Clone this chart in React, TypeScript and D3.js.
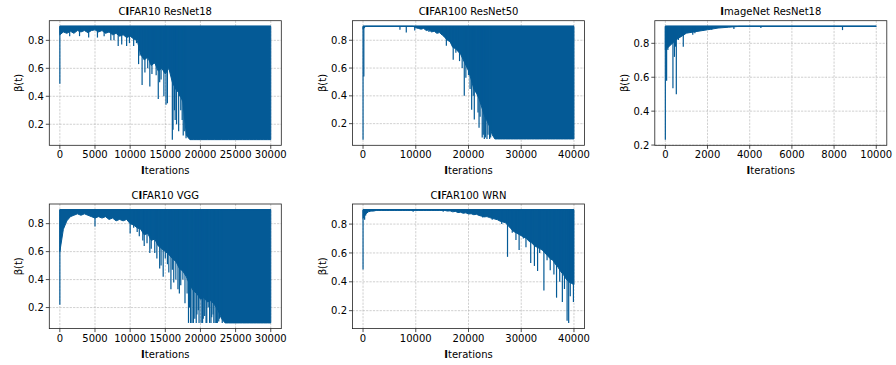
import React from 'react';
import * as d3 from 'd3';

// upper value of beta(t): every curve keeps returning to it
const betaMax = 0.9;

// lower edge of the dense band, one value every 500 iterations
const c10ResNet18Base = [0.84, 0.86, 0.85, 0.865, 0.85, 0.87, 0.86, 0.87, 0.855, 0.87, 0.875, 0.86, 0.87, 0.85, 0.86, 0.84, 0.85, 0.83, 0.84, 0.82, 0.83, 0.81, 0.8, 0.7, 0.66, 0.68, 0.62, 0.64, 0.58, 0.6, 0.56, 0.6, 0.5, 0.45, 0.42, 0.36, 0.12, 0.09, 0.09, 0.09, 0.09, 0.09, 0.09, 0.09, 0.09, 0.09, 0.09, 0.09, 0.09, 0.09, 0.09, 0.09, 0.09, 0.09, 0.09, 0.09, 0.09, 0.09, 0.09, 0.09, 0.09];
// deeper single dips: [iteration, beta]
const c10ResNet18Spikes = [[0, 0.49], [1400, 0.83], [2800, 0.83], [4100, 0.82], [5350, 0.82], [6300, 0.83], [7250, 0.8], [7700, 0.8], [8300, 0.76], [8800, 0.77], [9500, 0.76], [9900, 0.78], [10500, 0.76], [10900, 0.78], [11200, 0.63], [11400, 0.69], [11700, 0.48], [12100, 0.57], [12500, 0.6], [12800, 0.47], [13100, 0.56], [13400, 0.63], [13700, 0.55], [14000, 0.38], [14200, 0.5], [14400, 0.52], [14800, 0.4], [15100, 0.34], [15300, 0.35], [15700, 0.58], [16000, 0.09], [16100, 0.16], [16300, 0.3], [16400, 0.23], [16600, 0.2], [16700, 0.45], [16900, 0.15], [17000, 0.4], [17200, 0.3], [17400, 0.23], [17550, 0.12], [17700, 0.15], [17800, 0.26], [17950, 0.1]];

const c100ResNet50Base = [0.88, 0.9, 0.9, 0.9, 0.9, 0.9, 0.9, 0.9, 0.9, 0.9, 0.9, 0.9, 0.9, 0.9, 0.9, 0.9, 0.9, 0.9, 0.9, 0.9, 0.89, 0.885, 0.88, 0.885, 0.87, 0.875, 0.86, 0.865, 0.85, 0.855, 0.84, 0.82, 0.8, 0.79, 0.75, 0.74, 0.72, 0.7, 0.66, 0.62, 0.58, 0.52, 0.45, 0.42, 0.38, 0.32, 0.26, 0.22, 0.18, 0.12, 0.09, 0.09, 0.09, 0.09, 0.09, 0.09, 0.09, 0.09, 0.09, 0.09, 0.09, 0.09, 0.09, 0.09, 0.09, 0.09, 0.09, 0.09, 0.09, 0.09, 0.09, 0.09, 0.09, 0.09, 0.09, 0.09, 0.09, 0.09, 0.09, 0.09, 0.09];
const c100ResNet50Spikes = [[0, 0.085], [150, 0.54], [7000, 0.876], [8200, 0.855], [9800, 0.87], [12500, 0.86], [14900, 0.84], [15800, 0.76], [16500, 0.8], [17100, 0.66], [17600, 0.71], [18300, 0.65], [18800, 0.6], [19200, 0.4], [19500, 0.53], [20000, 0.55], [20300, 0.45], [20600, 0.3], [20900, 0.4], [21100, 0.23], [21500, 0.42], [21800, 0.28], [22000, 0.17], [22200, 0.25], [22400, 0.35], [22600, 0.1], [22800, 0.12], [23000, 0.09], [23200, 0.1], [23500, 0.09], [23700, 0.12], [24000, 0.09], [24200, 0.1]];

const imageNetResNet18Base = [0.76, 0.82, 0.86, 0.87, 0.88, 0.89, 0.895, 0.9, 0.9, 0.9, 0.9, 0.9, 0.9, 0.9, 0.9, 0.9, 0.9, 0.9, 0.9, 0.9, 0.9];
const imageNetResNet18Spikes = [[0, 0.232], [60, 0.58], [120, 0.76], [250, 0.8], [360, 0.535], [430, 0.72], [480, 0.78], [520, 0.5], [620, 0.82], [720, 0.84], [850, 0.78], [1300, 0.85], [1400, 0.86], [1800, 0.875], [2200, 0.88], [3250, 0.885], [4530, 0.89], [8400, 0.878]];

const c10VggBase = [0.6, 0.76, 0.82, 0.85, 0.86, 0.87, 0.86, 0.87, 0.86, 0.85, 0.84, 0.85, 0.84, 0.85, 0.83, 0.84, 0.82, 0.83, 0.82, 0.83, 0.8, 0.79, 0.77, 0.76, 0.72, 0.73, 0.68, 0.69, 0.64, 0.62, 0.6, 0.58, 0.55, 0.53, 0.48, 0.46, 0.42, 0.36, 0.32, 0.3, 0.26, 0.27, 0.24, 0.25, 0.22, 0.18, 0.12, 0.09, 0.09, 0.09, 0.09, 0.09, 0.09, 0.09, 0.09, 0.09, 0.09, 0.09, 0.09, 0.09, 0.09];
const c10VggSpikes = [[0, 0.22], [5000, 0.78], [10000, 0.73], [10500, 0.77], [11000, 0.74], [11300, 0.71], [11800, 0.68], [12000, 0.64], [12400, 0.66], [12800, 0.59], [13000, 0.62], [13500, 0.59], [13800, 0.55], [14200, 0.48], [14400, 0.5], [14700, 0.42], [15000, 0.55], [15300, 0.51], [15500, 0.45], [15800, 0.33], [16000, 0.47], [16200, 0.38], [16500, 0.4], [16800, 0.33], [17000, 0.3], [17200, 0.36], [17500, 0.4], [17800, 0.23], [18100, 0.3], [18300, 0.09], [18450, 0.2], [18600, 0.09], [18800, 0.09], [19000, 0.09], [19200, 0.12], [19400, 0.09], [19500, 0.15], [19700, 0.18], [19800, 0.09], [20100, 0.09], [20300, 0.09], [20400, 0.12], [20600, 0.14], [20800, 0.09], [20900, 0.09], [21100, 0.2], [21300, 0.09], [21500, 0.09], [21600, 0.13], [21800, 0.15], [21900, 0.09], [22100, 0.09], [22300, 0.09], [22400, 0.09], [22600, 0.1], [22700, 0.12], [23100, 0.09]];

const c100WrnBase = [0.84, 0.87, 0.885, 0.89, 0.89, 0.895, 0.895, 0.895, 0.895, 0.895, 0.895, 0.895, 0.895, 0.895, 0.895, 0.895, 0.895, 0.895, 0.895, 0.895, 0.895, 0.895, 0.895, 0.895, 0.895, 0.895, 0.895, 0.895, 0.895, 0.895, 0.895, 0.895, 0.89, 0.892, 0.885, 0.888, 0.88, 0.882, 0.875, 0.878, 0.87, 0.872, 0.865, 0.868, 0.86, 0.855, 0.85, 0.852, 0.845, 0.84, 0.835, 0.83, 0.82, 0.815, 0.81, 0.79, 0.77, 0.75, 0.74, 0.73, 0.72, 0.71, 0.7, 0.68, 0.67, 0.65, 0.64, 0.63, 0.62, 0.6, 0.58, 0.56, 0.55, 0.52, 0.5, 0.47, 0.45, 0.42, 0.4, 0.39, 0.38];
const c100WrnSpikes = [[0, 0.486], [300, 0.83], [500, 0.86], [9500, 0.885], [15200, 0.885], [22700, 0.845], [24500, 0.83], [26300, 0.8], [27400, 0.573], [28300, 0.74], [29000, 0.69], [29600, 0.62], [30400, 0.7], [30900, 0.64], [31800, 0.53], [32500, 0.51], [33100, 0.475], [33500, 0.6], [34300, 0.34], [34900, 0.55], [35500, 0.48], [36200, 0.45], [36700, 0.29], [37300, 0.4], [37800, 0.26], [38200, 0.35], [38700, 0.13], [39000, 0.115], [39300, 0.3], [39600, 0.47], [39900, 0.26]];

const ticks30k = [0, 5000, 10000, 15000, 20000, 25000, 30000];
const ticks40k = [0, 10000, 20000, 30000, 40000];
const ticks10k = [0, 2000, 4000, 6000, 8000, 10000];
const yTicks = [0.2, 0.4, 0.6, 0.8];

const panels = [
  { title: 'CIFAR10 ResNet18', base: c10ResNet18Base, spikes: c10ResNet18Spikes, step: 500, xTicks: ticks30k, left: 49.3, top: 20.7 },
  { title: 'CIFAR100 ResNet50', base: c100ResNet50Base, spikes: c100ResNet50Spikes, step: 500, xTicks: ticks40k, left: 352.5, top: 20.7 },
  { title: 'ImageNet ResNet18', base: imageNetResNet18Base, spikes: imageNetResNet18Spikes, step: 500, xTicks: ticks10k, left: 654.8, top: 20.7 },
  { title: 'CIFAR10 VGG', base: c10VggBase, spikes: c10VggSpikes, step: 500, xTicks: ticks30k, left: 49.3, top: 204 },
  { title: 'CIFAR100 WRN', base: c100WrnBase, spikes: c100WrnSpikes, step: 500, xTicks: ticks40k, left: 352.5, top: 204 },
];

const W = 896;
const H = 365;
const AW = 232;
const AH = 124.6;
const BLUE = '#045a96';
const FONT = 'DejaVu Sans, sans-serif';

// the capital I renders heavy in the original, mimic that
const heavyI = (s: string) =>
  s.split(/(I)/).map((part, i) =>
    part === 'I' ? <tspan key={i} fontWeight="bold">I</tspan> : <tspan key={i}>{part}</tspan>
  );

function Panel({ p }: { p: any }) {
  const { left, top } = p;
  const maxIter = (p.base.length - 1) * p.step;
  const x = d3.scaleLinear().domain([-maxIter * 0.05, maxIter * 1.05]).range([left, left + AW]);
  const vals = [...p.base, ...p.spikes.map((s: number[]) => s[1]), betaMax];
  const [lo, hi] = d3.extent(vals) as [number, number];
  const pad = (hi - lo) * 0.05;
  const y = d3.scaleLinear().domain([lo - pad, hi + pad]).range([top + AH, top]);

  const area = d3.area<number>()
    .x((_, i) => x(i * p.step))
    .y0(d => y(d))
    .y1(y(betaMax));

  const fmtY = d3.format('.1f');

  return (
    <g>
      {/* grid */}
      {p.xTicks.map((t: number) => (
        <line key={'gx' + t} x1={x(t)} x2={x(t)} y1={top} y2={top + AH} stroke="#b0b0b0" strokeWidth={0.6} strokeDasharray="2.2,1.2" />
      ))}
      {yTicks.map(t => (
        <line key={'gy' + t} x1={left} x2={left + AW} y1={y(t)} y2={y(t)} stroke="#b0b0b0" strokeWidth={0.6} strokeDasharray="2.2,1.2" />
      ))}

      {/* dense band */}
      <path d={area(p.base) || ''} fill={BLUE} stroke={BLUE} strokeWidth={1} strokeLinejoin="round" />
      <line x1={x(0)} x2={x(maxIter)} y1={y(betaMax)} y2={y(betaMax)} stroke={BLUE} strokeWidth={1.5} />
      {p.spikes.map((s: number[], i: number) => (
        <line key={'s' + i} x1={x(s[0])} x2={x(s[0])} y1={y(betaMax)} y2={y(s[1])} stroke={BLUE} strokeWidth={1.2} />
      ))}

      {/* frame */}
      <rect x={left} y={top} width={AW} height={AH} fill="none" stroke="#222" strokeWidth={0.8} />

      {/* x axis */}
      {p.xTicks.map((t: number) => (
        <g key={'xt' + t}>
          <line x1={x(t)} x2={x(t)} y1={top + AH} y2={top + AH + 3.5} stroke="#222" strokeWidth={0.8} />
          <text x={x(t)} y={top + AH + 13} textAnchor="middle" fontSize={10} fontFamily={FONT}>{t}</text>
        </g>
      ))}
      <text x={left + AW / 2} y={top + AH + 29} textAnchor="middle" fontSize={10} fontFamily={FONT}>{heavyI('Iterations')}</text>

      {/* y axis */}
      {yTicks.filter(t => y(t) >= top - 0.5 && y(t) <= top + AH + 0.5).map(t => (
        <g key={'yt' + t}>
          <line x1={left - 3.5} x2={left} y1={y(t)} y2={y(t)} stroke="#222" strokeWidth={0.8} />
          <text x={left - 5.5} y={y(t) + 3.6} textAnchor="end" fontSize={10} fontFamily={FONT}>{fmtY(t)}</text>
        </g>
      ))}
      <text transform={`translate(${left - 27},${top + AH / 2}) rotate(-90)`} textAnchor="middle" fontSize={10} fontFamily={FONT}>β(t)</text>

      {/* title */}
      <text x={left + AW / 2} y={top - 5.5} textAnchor="middle" fontSize={10} fontFamily={FONT}>{heavyI(p.title)}</text>
    </g>
  );
}

export default function App() {
  return (
    <div style={{ position: 'absolute', left: 0, top: 0 }}>
      <svg width={W} height={H} style={{ display: 'block', background: '#fff' }}>
        {panels.map(p => <Panel key={p.title} p={p} />)}
      </svg>
    </div>
  );
}
